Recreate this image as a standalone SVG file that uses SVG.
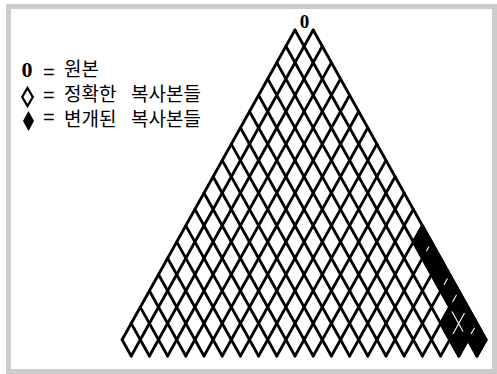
<svg xmlns="http://www.w3.org/2000/svg" width="497" height="374" viewBox="0 0 497 374">
<style>
.lat{fill:none;stroke:#000;stroke-width:2.8;stroke-linecap:round;stroke-linejoin:round}
.blk{fill:#000;stroke:#000;stroke-width:2.8;stroke-linejoin:round}
.scr{fill:none;stroke:#fff;stroke-width:1.1}
.kr{font-family:"Noto Sans CJK KR","Noto Sans",sans-serif;font-size:19px;fill:#000}
.eq{font-family:"Liberation Sans",Arial,sans-serif;font-size:20px;fill:#000}
.zero{font-family:"Liberation Serif","Times New Roman",serif;font-weight:bold;fill:#000}
</style>
<rect x="0" y="0" width="497" height="374" fill="#fff"/>
<rect x="8.5" y="6.5" width="486" height="365" fill="#fff" stroke="#ccc" stroke-width="5"/>
<g id="legend">
<g id="legend-original">
<text class="zero" x="21.5" y="77" font-size="22">0</text>
<text class="eq" x="43" y="79">=</text>
<text class="kr" x="64" y="76">원본</text>
</g>
<g id="legend-exact">
<polygon points="27.5,88 32.8,97 27.5,106 22.2,97" fill="#fff" stroke="#000" stroke-width="2.2"/>
<text class="eq" x="43" y="102">=</text>
<text class="kr" y="101"><tspan x="64">정확한</tspan><tspan x="131">복사본들</tspan></text>
</g>
<g id="legend-altered">
<polygon points="28.5,111 34,121 28.5,131 23,121" fill="#000"/>
<text class="eq" x="43" y="124">=</text>
<text class="kr" y="126"><tspan x="64">변개된</tspan><tspan x="131">복사본들</tspan></text>
</g>
</g>
<g id="apex-label">
<text class="zero" x="304.5" y="28" font-size="19" text-anchor="middle">0</text>
</g>
<g id="altered-copies">
<polygon class="blk" points="422.4,225.6 486.1,339.7 477,356 467.9,339.7 458.8,356 440.6,323.4 449.7,307.1 413.3,241.9"/>
</g>
<g id="lattice" class="lat">
<path d="M295,30L477,356M285.9,46.3L458.8,356M276.8,62.6L440.6,356M267.7,78.9L422.4,356M258.6,95.2L404.2,356M249.5,111.5L386,356M240.4,127.8L367.8,356M231.3,144.1L349.6,356M222.2,160.4L331.4,356M213.1,176.7L313.2,356M204,193L295,356M194.9,209.3L276.8,356M185.8,225.6L258.6,356M176.7,241.9L240.4,356M167.6,258.2L222.2,356M158.5,274.5L204,356M149.4,290.8L185.8,356M140.3,307.1L167.6,356M131.2,323.4L149.4,356M122.1,339.7L131.2,356M313.2,30L486.1,339.7"/>
<path d="M295,30L122.1,339.7M313.2,30L131.2,356M322.3,46.3L149.4,356M331.4,62.6L167.6,356M340.5,78.9L185.8,356M349.6,95.2L204,356M358.7,111.5L222.2,356M367.8,127.8L240.4,356M376.9,144.1L258.6,356M386,160.4L276.8,356M395.1,176.7L295,356M404.2,193L313.2,356M413.3,209.3L331.4,356M422.4,225.6L349.6,356M431.5,241.9L367.8,356M440.6,258.2L386,356M449.7,274.5L404.2,356M458.8,290.8L422.4,356M467.9,307.1L440.6,356M477,323.4L458.8,356M486.1,339.7L477,356"/>
</g>
<g id="scan-marks" class="scr">
<path d="M429,246.5L426.5,251M447.5,278.5L444,285M456.5,295L452.5,302M464.5,313L453,334M452,311.5L463,331.5M474.5,328L471,334"/>
</g>
</svg>
